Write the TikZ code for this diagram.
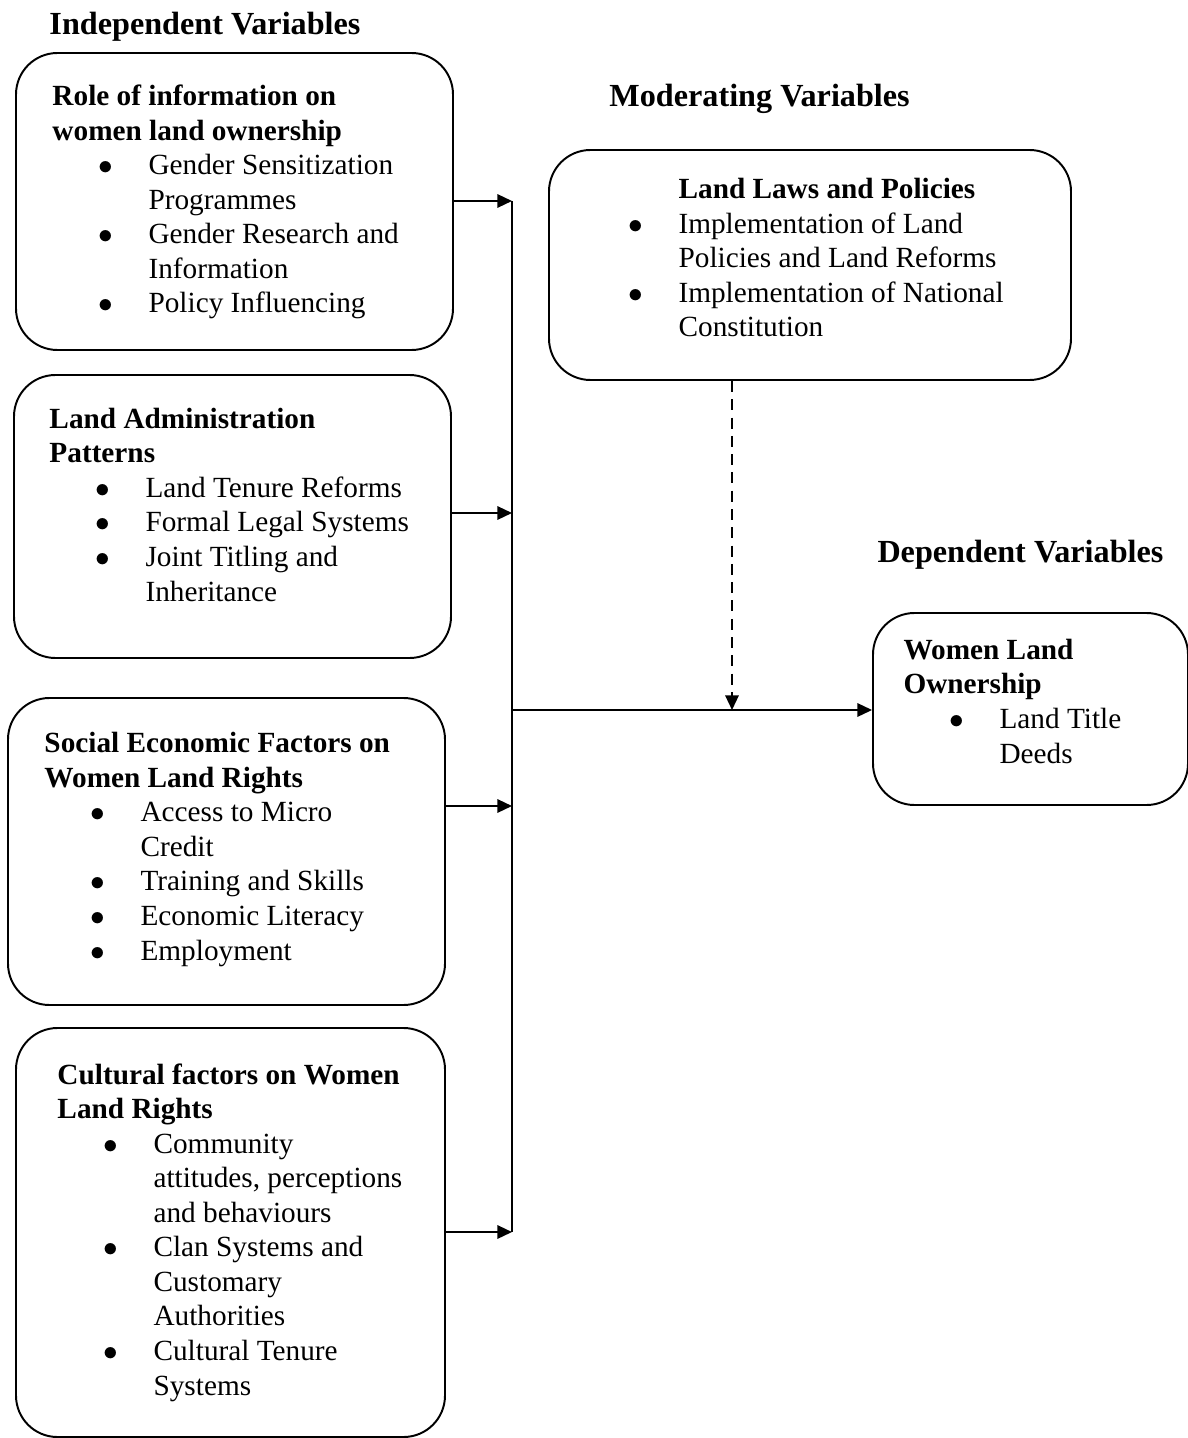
\documentclass[tikz,border=0pt]{standalone}
\usepackage{fontspec}
\setmainfont{Liberation Serif}
\usetikzlibrary{arrows.meta,fit}
\newcommand{\itm}{\hspace*{18.7pt}\makebox[20.7pt][l]{$\bullet$}}
\newcommand{\cnt}{\hspace*{39.4pt}}
\begin{document}
\begin{tikzpicture}[x=0.41pt,y=-0.41pt,
	varbox/.style={draw,line width=0.8pt,rounded corners=17pt,inner sep=0pt},
	vartext/.style={anchor=base west,align=left,inner sep=0pt,font=\fontsize{12}{14.15}\selectfont},
	heading/.style={anchor=base west,inner sep=0pt,font=\fontsize{13.2}{15}\selectfont\bfseries},
	link/.style={line width=0.8pt,arrows={-Triangle[length=6pt,width=5.5pt]}}]
	\useasboundingbox (0,0) rectangle (1187,1438);

	\node [heading] (hind) at (49,35) {Independent Variables};
	\node [heading] (hmod) at (609,107) {Moderating Variables};
	\node [heading] (hdep) at (877,562) {Dependent Variables};

	% text nodes sit on the baseline of their last line
	\node [varbox, fit={(16,53) (453,350)}] (iv1) {};
	\node [vartext] (t1) at (52,313) {\textbf{Role of information on}\\
	\textbf{women land ownership}\\
	\itm Gender Sensitization\\
	\cnt Programmes\\
	\itm Gender Research and\\
	\cnt Information\\
	\itm Policy Influencing};

	\node [varbox, fit={(14,375) (451,658)}] (iv2) {};
	\node [vartext] (t2) at (49,601) {\textbf{Land Administration}\\
	\textbf{Patterns}\\
	\itm Land Tenure Reforms\\
	\itm Formal Legal Systems\\
	\itm Joint Titling and\\
	\cnt Inheritance};

	\node [varbox, fit={(8,698) (445,1005)}] (iv3) {};
	\node [vartext] (t3) at (44,960) {\textbf{Social Economic Factors on}\\
	\textbf{Women Land Rights}\\
	\itm Access to Micro\\
	\cnt Credit\\
	\itm Training and Skills\\
	\itm Economic Literacy\\
	\itm Employment};

	\node [varbox, fit={(16,1028) (445,1437)}] (iv4) {};
	\node [vartext] (t4) at (57,1395) {\textbf{Cultural factors on Women}\\
	\textbf{Land Rights}\\
	\itm Community\\
	\cnt attitudes, perceptions\\
	\cnt and behaviours\\
	\itm Clan Systems and\\
	\cnt Customary\\
	\cnt Authorities\\
	\itm Cultural Tenure\\
	\cnt Systems};

	\node [varbox, fit={(549,150) (1071,380)}] (mod) {};
	\node [vartext] (tm) at (582,337) {\cnt\textbf{Land Laws and Policies}\\
	\itm Implementation of Land\\
	\cnt Policies and Land Reforms\\
	\itm Implementation of National\\
	\cnt Constitution};

	\node [varbox, fit={(873,613) (1188,805)}] (dep) {};
	\node [vartext] (td) at (903,763) {\textbf{Women Land}\\
	\textbf{Ownership}\\
	\itm Land Title\\
	\cnt Deeds};

	% bus to the dependent variable
	\coordinate (b1) at (512,201);
	\coordinate (b2) at (512,513);
	\coordinate (b3) at (512,806);
	\coordinate (b4) at (512,1232);
	\coordinate (m) at (512,710);
	\coordinate (j) at (732,710);

	\draw [link] (iv1.east |- b1) -- (b1);
	\draw [link] (iv2.east |- b2) -- (b2);
	\draw [link] (iv3.east |- b3) -- (b3);
	\draw [link] (iv4.east |- b4) -- (b4);
	\draw [line width=0.8pt] (b1) -- (b4);
	\draw [link] (m) -- (dep.west |- m);
	\draw [link,dash pattern=on 4.5pt off 3pt] (mod.south -| j) -- (j);
\end{tikzpicture}
\end{document}
